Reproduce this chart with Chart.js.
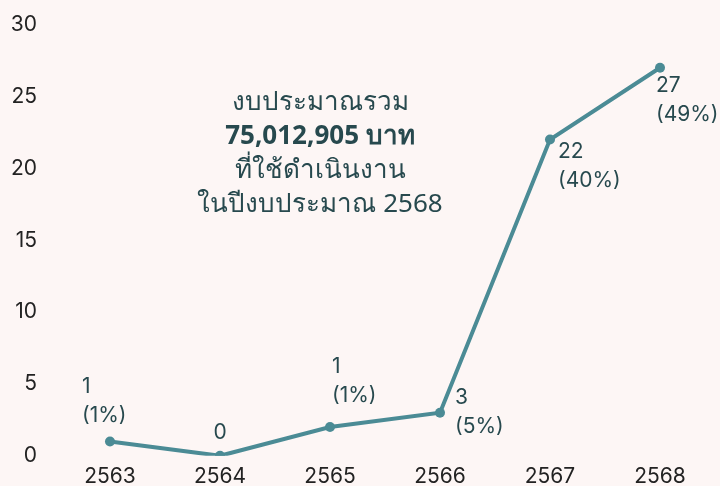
<!DOCTYPE html>
<html lang="th">
<head>
<meta charset="utf-8">
<script src="https://cdn.jsdelivr.net/npm/chart.js@4"></script>
<style>
  html, body { margin: 0; padding: 0; background: #fdf6f5; overflow: hidden; }
  #wrap { position: relative; width: 720px; height: 486px; overflow: hidden; }
  #box { position: absolute; left: 0; top: -6px; width: 720px; height: 503px; }
  #note {
    position: absolute; left: 160px; top: 83px; width: 320px;
    text-align: center; color: #27494e;
    font-family: "Noto Sans", "DejaVu Sans", sans-serif;
    font-size: 26px; line-height: 34px;
  }
  #note b { font-weight: 700; }
</style>
</head>
<body>
<div id="wrap">
  <div id="box"><canvas id="lineChart"></canvas></div>
  <div id="note">งบประมาณรวม<br><b>75,012,905 บาท</b><br>ที่ใช้ดำเนินงาน<br>ในปีงบประมาณ 2568</div>
</div>
<script>
const years = ["2563", "2564", "2565", "2566", "2567", "2568"];
const projects = [1, 0, 2, 3, 22, 27];
const countLabels = ["1", "0", "1", "3", "22", "27"];
const shareLabels = ["(1%)", "", "(1%)", "(5%)", "(40%)", "(49%)"];
const yTicks = [0, 5, 10, 15, 20, 25, 30];

const lineColor = "#4b8b95";
const textColor = "#27494e";
const fontFamily = "Inter, 'Noto Sans', sans-serif";

// where each label sits relative to its point
const labelOffsets = [
  { dx: -28, dy: -55, align: "left" },
  { dx: 0, dy: -23, align: "center" },
  { dx: 2, dy: -60, align: "left" },
  { dx: 15, dy: -15, align: "left" },
  { dx: 8, dy: 12, align: "left" },
  { dx: -4, dy: 18, align: "left" },
];

const pointLabels = {
  id: "pointLabels",
  afterDatasetsDraw(chart) {
    const ctx = chart.ctx;
    const meta = chart.getDatasetMeta(0);
    ctx.save();
    ctx.fillStyle = textColor;
    ctx.font = "21px " + fontFamily;
    ctx.textBaseline = "middle";
    meta.data.forEach((pt, i) => {
      const o = labelOffsets[i];
      ctx.textAlign = o.align;
      ctx.fillText(countLabels[i], pt.x + o.dx, pt.y + o.dy);
      if (shareLabels[i]) {
        ctx.fillText(shareLabels[i], pt.x + o.dx, pt.y + o.dy + 29);
      }
    });
    ctx.restore();
  },
};

new Chart(document.getElementById("lineChart"), {
  type: "line",
  data: {
    labels: years,
    datasets: [
      {
        data: projects,
        borderColor: lineColor,
        backgroundColor: lineColor,
        borderWidth: 4,
        pointRadius: 5,
        pointBackgroundColor: lineColor,
        pointBorderWidth: 0,
        tension: 0,
      },
    ],
  },
  options: {
    responsive: true,
    maintainAspectRatio: false,
    animation: false,
    layout: { padding: { top: 9, right: 2, left: 0, bottom: 0 } },
    plugins: {
      legend: { display: false },
      tooltip: { enabled: false },
    },
    scales: {
      x: {
        offset: true,
        grid: { display: false, drawTicks: false },
        border: { display: false },
        ticks: {
          color: "#222",
          padding: 8,
          font: { family: fontFamily, size: 21 },
        },
      },
      y: {
        min: 0,
        max: 30,
        afterBuildTicks: (scale) => {
          scale.ticks = yTicks.map((v) => ({ value: v }));
        },
        afterFit: (scale) => {
          scale.width = 55;
        },
        grid: { display: false, drawTicks: false },
        border: { display: false },
        ticks: {
          color: "#222",
          padding: 18,
          font: { family: fontFamily, size: 21 },
        },
      },
    },
  },
  plugins: [pointLabels],
});
</script>
</body>
</html>
